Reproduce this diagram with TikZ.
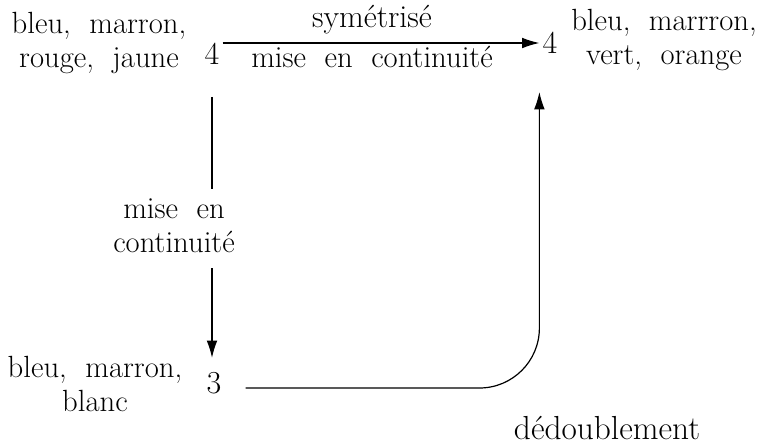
\documentclass[tikz,border=0pt]{standalone}
\usetikzlibrary{arrows.meta,calc}
\begin{document}
\begin{tikzpicture}[x=0.75pt,y=-0.75pt,
  lbl/.style={font=\fontsize{23}{25.5}\selectfont, align=center, inner sep=0pt},
  num/.style={font=\fontsize{24}{26}\selectfont, inner sep=2.25pt},
  ln/.style={line width=0.9pt},
  arr/.style={line width=0.9pt, -{Latex[length=13pt,width=8pt]}}]
\useasboundingbox (0,0) rectangle (763,444);
\node[lbl] (tl) at (99,43) {bleu,\ \ marron,\\rouge,\ \ jaune};
\node[num] (n1) at (212,54) {4};
\node[num] (n2) at (550,43) {4};
\node[lbl] (tr) at (664,40) {bleu,\ \ marrron,\\vert,\ \ orange};
\node[num] (n3) at (214,383) {3};
\node[lbl] (bl) at (95,384) {bleu,\ \ marron,\\blanc};
\node[lbl, font=\fontsize{24}{26}\selectfont] (sym) at (372,20) {symétrisé};
\node[lbl] (mc1) at (372,57) {mise\ \ en\ \ continuité};
\node[lbl] (mc2) at (174,226) {mise\ \ en\\continuité};
\node[lbl, font=\fontsize{25}{27}\selectfont] (ded) at (607,428) {dédoublement};
\draw[arr] (n1.east |- n2.west) -- (n2.west);
\draw[ln] ($(n1.south)+(0,29)$) -- ($(n1.south |- mc2.north)+(0,-10)$);
\draw[arr] ($(n1.south |- mc2.south)+(0,15)$) -- ($(n1.south |- n3.north)+(0,-11)$);
\draw[arr, rounded corners=45pt] ($(n3.east)+(21,5)$) -- ($(n2.west |- n3.east)+(0,5)$) -- ($(n2.west)+(0,49)$);
\end{tikzpicture}
\end{document}
